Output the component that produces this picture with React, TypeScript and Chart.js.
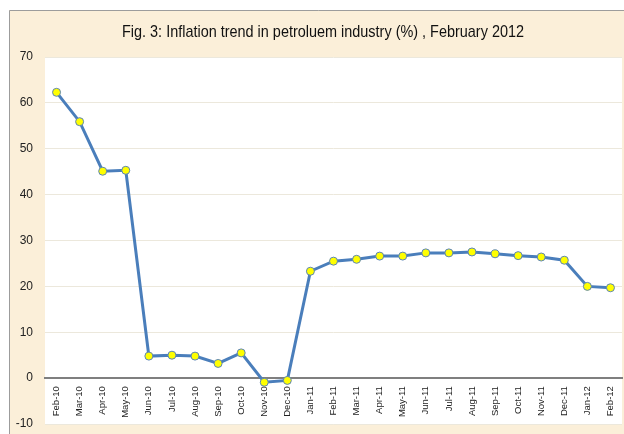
import React, { useEffect, useRef } from "react";
import { Chart, registerables } from "chart.js";

Chart.register(...registerables);

const categories: string[] = [
  "Feb-10", "Mar-10", "Apr-10", "May-10", "Jun-10", "Jul-10", "Aug-10", "Sep-10",
  "Oct-10", "Nov-10", "Dec-10", "Jan-11", "Feb-11", "Mar-11", "Apr-11", "May-11",
  "Jun-11", "Jul-11", "Aug-11", "Sep-11", "Oct-11", "Nov-11", "Dec-11", "Jan-12", "Feb-12",
];

const inflation: number[] = [
  62.3, 55.9, 45.1, 45.3, 4.8, 5.0, 4.8, 3.2,
  5.5, -0.9, -0.5, 23.3, 25.5, 25.9, 26.6, 26.6,
  27.3, 27.3, 27.5, 27.1, 26.7, 26.4, 25.7, 20.0, 19.7,
];

const titleText = "Fig. 3: Inflation trend in petroluem industry (%) , February 2012";

const yMin = -10;
const yMax = 70;
const yStep = 10;

const framePlugin = {
  id: "frame",
  beforeDraw(chart: any) {
    const { ctx, width, height, chartArea } = chart;
    ctx.save();
    ctx.fillStyle = "#ffffff";
    ctx.fillRect(0, 0, width, height);
    ctx.fillStyle = "#fbefd9";
    ctx.fillRect(9, 10, width - 9, height - 10);
    ctx.strokeStyle = "#9c9c9c";
    ctx.lineWidth = 1;
    ctx.beginPath();
    ctx.moveTo(9.5, height);
    ctx.lineTo(9.5, 10.5);
    ctx.lineTo(width, 10.5);
    ctx.stroke();
    ctx.fillStyle = "#ffffff";
    ctx.fillRect(chartArea.left, chartArea.top, chartArea.right - chartArea.left, chartArea.bottom - chartArea.top);
    ctx.restore();
  },
  afterDraw(chart: any) {
    const { ctx } = chart;
    ctx.save();
    ctx.fillStyle = "#111111";
    ctx.font = '17px "Liberation Sans", Arial, sans-serif';
    ctx.textAlign = "center";
    ctx.textBaseline = "alphabetic";
    ctx.fillText(titleText, 323, 37, 402);
    ctx.restore();
  },
};

function zeroPadding(scale: any) {
  scale.paddingLeft = 0;
  scale.paddingRight = 0;
  scale.paddingTop = 0;
  scale.paddingBottom = 0;
}

export default function App() {
  const ref = useRef<HTMLCanvasElement | null>(null);

  useEffect(() => {
    document.body.style.margin = "0";
    if (!ref.current) return;
    const chart = new Chart(ref.current, {
      type: "line",
      data: {
        labels: categories,
        datasets: [
          {
            data: inflation,
            borderColor: "#4a7ebb",
            borderWidth: 3,
            backgroundColor: "#4a7ebb",
            pointBackgroundColor: "#ffff00",
            pointBorderColor: "#5b84b8",
            pointBorderWidth: 1,
            pointRadius: 4,
            tension: 0,
          },
        ],
      },
      options: {
        responsive: false,
        animation: false,
        layout: { padding: { top: 57, left: 10, right: 0, bottom: 10 } },
        plugins: {
          legend: { display: false },
          title: { display: false },
          tooltip: { enabled: false },
        },
        scales: {
          x: {
            type: "category",
            axis: "x",
            position: { y: 0 } as any,
            offset: true,
            grid: { display: false, drawTicks: false },
            border: { display: true, color: "#7f7f7f", width: 2 },
            afterFit: zeroPadding,
            ticks: {
              autoSkip: false,
              maxRotation: 90,
              minRotation: 90,
              padding: 8,
              color: "#222222",
              font: { family: '"Liberation Sans", Arial, sans-serif', size: 9.5 },
            },
          },
          y: {
            min: yMin,
            max: yMax,
            grid: { color: "#ece8dc", lineWidth: 1, drawTicks: false },
            border: { display: false },
            afterFit(scale: any) {
              scale.width = 35;
              zeroPadding(scale);
            },
            ticks: {
              stepSize: yStep,
              padding: 12,
              color: "#222222",
              font: { family: '"Liberation Sans", Arial, sans-serif', size: 12 },
            },
          },
        },
      },
      plugins: [framePlugin],
    });
    return () => chart.destroy();
  }, []);

  return (
    <div style={{ width: 624, height: 434, overflow: "hidden" }}>
      <canvas ref={ref} width={627} height={434} style={{ display: "block" }} />
    </div>
  );
}
